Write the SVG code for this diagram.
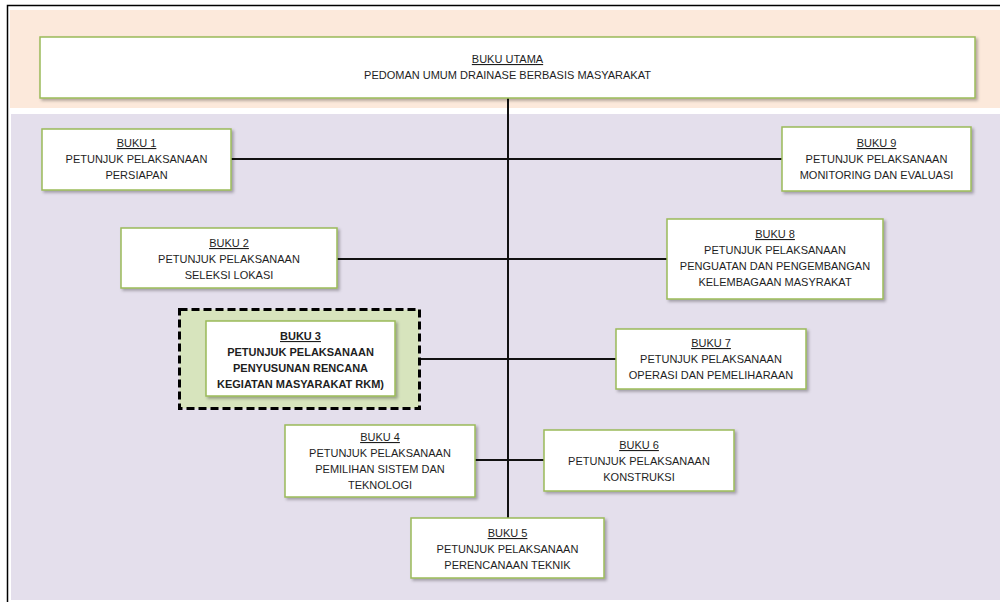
<svg xmlns="http://www.w3.org/2000/svg" width="1000" height="602" viewBox="0 0 1000 602" xml:space="preserve">
<defs>
<filter id="sh" x="-10%" y="-10%" width="130%" height="140%">
<feDropShadow dx="2" dy="2" stdDeviation="1.5" flood-color="#000" flood-opacity="0.3"/>
</filter>
</defs>
<style>
.box{fill:#fff;stroke:#9BBB59;stroke-width:1.5;filter:url(#sh)}
.t{font-family:"Liberation Sans",Arial,sans-serif;font-size:11px;fill:#1e1e1e;text-anchor:middle}
.b{font-weight:bold}
.u{text-decoration:underline}
.ln{stroke:#111;stroke-width:2;fill:none}
</style>
<rect x="0" y="0" width="1000" height="602" fill="#fff"/>
<rect x="10" y="10" width="990" height="98" fill="#FCE9DB"/>
<rect x="11" y="114" width="989" height="486" fill="#E4DFEC"/>
<path d="M7.5 602 V5.5 H1000" stroke="#000" stroke-width="1.5" fill="none"/>
<g id="connectors">
<line class="ln" x1="508" y1="98" x2="508" y2="518"/>
<line class="ln" x1="231" y1="159" x2="782" y2="159"/>
<line class="ln" x1="337" y1="259" x2="667" y2="259"/>
<line class="ln" x1="395" y1="359" x2="616" y2="359"/>
<line class="ln" x1="475" y1="460" x2="544" y2="460"/>
</g>
<g id="buku-utama">
<rect class="box" x="40" y="37" width="935" height="61"/>
<text class="t" x="507.5" y="63"><tspan class="u">BUKU UTAMA</tspan></text>
<text class="t" x="507.5" y="79">PEDOMAN UMUM DRAINASE BERBASIS  MASYARAKAT</text>
</g>
<g id="buku-1">
<rect class="box" x="42" y="129" width="189" height="61"/>
<text class="t" x="136.5" y="147"><tspan class="u">BUKU 1</tspan></text>
<text class="t" x="136.5" y="163">PETUNJUK PELAKSANAAN</text>
<text class="t" x="136.5" y="179">PERSIAPAN</text>
</g>
<g id="buku-9">
<rect class="box" x="782" y="127" width="189" height="64"/>
<text class="t" x="876.5" y="147"><tspan class="u">BUKU 9</tspan></text>
<text class="t" x="876.5" y="163">PETUNJUK PELAKSANAAN</text>
<text class="t" x="876.5" y="179">MONITORING DAN EVALUASI</text>
</g>
<g id="buku-2">
<rect class="box" x="121" y="228" width="216" height="60"/>
<text class="t" x="229" y="247"><tspan class="u">BUKU 2</tspan></text>
<text class="t" x="229" y="263">PETUNJUK PELAKSANAAN</text>
<text class="t" x="229" y="279">SELEKSI  LOKASI</text>
</g>
<g id="buku-8">
<rect class="box" x="667" y="219" width="216" height="80"/>
<text class="t" x="775" y="238"><tspan class="u">BUKU 8</tspan></text>
<text class="t" x="775" y="254">PETUNJUK PELAKSANAAN</text>
<text class="t" x="775" y="270">PENGUATAN DAN PENGEMBANGAN</text>
<text class="t" x="775" y="286">KELEMBAGAAN  MASYRAKAT</text>
</g>
<g id="buku-3">
<rect x="179.5" y="309.5" width="240" height="99" fill="#D7E4BD" stroke="#000" stroke-width="3" stroke-dasharray="8,4"/>
<rect class="box" x="206" y="321" width="189" height="75"/>
<text class="t b" x="300.5" y="340"><tspan class="u">BUKU 3</tspan></text>
<text class="t b" x="300.5" y="356">PETUNJUK PELAKSANAAN</text>
<text class="t b" x="300.5" y="372">PENYUSUNAN RENCANA</text>
<text class="t b" x="300.5" y="388">KEGIATAN MASYARAKAT RKM)</text>
</g>
<g id="buku-7">
<rect class="box" x="616" y="329" width="190" height="60"/>
<text class="t" x="711" y="347"><tspan class="u">BUKU 7</tspan></text>
<text class="t" x="711" y="363">PETUNJUK PELAKSANAAN</text>
<text class="t" x="711" y="379">OPERASI  DAN PEMELIHARAAN</text>
</g>
<g id="buku-4">
<rect class="box" x="285" y="425" width="190" height="72"/>
<text class="t" x="380" y="441"><tspan class="u">BUKU 4</tspan></text>
<text class="t" x="380" y="457">PETUNJUK PELAKSANAAN</text>
<text class="t" x="380" y="473">PEMILIHAN SISTEM  DAN</text>
<text class="t" x="380" y="489">TEKNOLOGI</text>
</g>
<g id="buku-6">
<rect class="box" x="544" y="430" width="190" height="61"/>
<text class="t" x="639" y="449"><tspan class="u">BUKU 6</tspan></text>
<text class="t" x="639" y="465">PETUNJUK PELAKSANAAN</text>
<text class="t" x="639" y="481">KONSTRUKSI</text>
</g>
<g id="buku-5">
<rect class="box" x="411" y="518" width="193" height="60"/>
<text class="t" x="507.5" y="537"><tspan class="u">BUKU 5</tspan></text>
<text class="t" x="507.5" y="553">PETUNJUK PELAKSANAAN</text>
<text class="t" x="507.5" y="569">PERENCANAAN TEKNIK</text>
</g>
</svg>
